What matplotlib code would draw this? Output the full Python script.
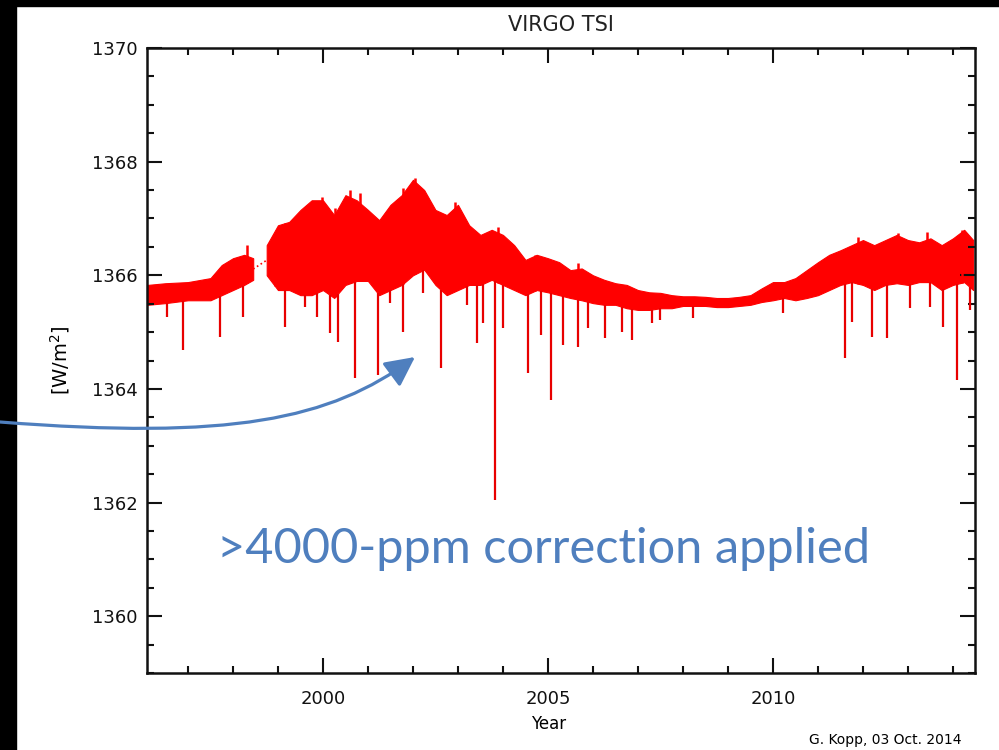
import numpy as np
import matplotlib.pyplot as plt
from matplotlib.patches import Rectangle, FancyArrowPatch
from matplotlib.path import Path
from matplotlib.ticker import MultipleLocator

# VIRGO TSI band (upper / lower edge of the daily scatter)
years = [1996.1, 1996.5, 1997.0, 1997.5, 1997.75, 1998.0, 1998.25, 1998.45,
         1998.75, 1999.0, 1999.25, 1999.5, 1999.75, 2000.0, 2000.25, 2000.5,
         2000.75, 2001.0, 2001.25, 2001.5, 2001.75, 2002.0, 2002.25, 2002.5,
         2002.75, 2003.0, 2003.25, 2003.5, 2003.75, 2004.0, 2004.25, 2004.5,
         2004.75, 2005.0, 2005.25, 2005.5, 2005.75, 2006.0, 2006.25, 2006.5,
         2006.75, 2007.0, 2007.25, 2007.5, 2007.75, 2008.0, 2008.25, 2008.5,
         2008.75, 2009.0, 2009.25, 2009.5, 2009.75, 2010.0, 2010.25, 2010.5,
         2010.75, 2011.0, 2011.25, 2011.5, 2011.75, 2012.0, 2012.25, 2012.5,
         2012.75, 2013.0, 2013.25, 2013.5, 2013.75, 2014.0, 2014.25, 2014.45]
upper = [1365.83, 1365.86, 1365.88, 1365.95, 1366.18, 1366.30, 1366.36, 1366.30,
         1366.53, 1366.88, 1366.94, 1367.15, 1367.32, 1367.32, 1367.06, 1367.41,
         1367.32, 1367.15, 1366.97, 1367.24, 1367.41, 1367.68, 1367.50, 1367.15,
         1367.06, 1367.24, 1366.88, 1366.71, 1366.80, 1366.71, 1366.53, 1366.27,
         1366.36, 1366.30, 1366.23, 1366.09, 1366.12, 1366.00, 1365.92, 1365.86,
         1365.83, 1365.74, 1365.70, 1365.69, 1365.65, 1365.63, 1365.63, 1365.62,
         1365.60, 1365.60, 1365.62, 1365.65, 1365.77, 1365.88, 1365.88, 1365.95,
         1366.09, 1366.23, 1366.36, 1366.44, 1366.53, 1366.62, 1366.53, 1366.62,
         1366.71, 1366.62, 1366.58, 1366.65, 1366.53, 1366.65, 1366.80, 1366.62]
lower = [1365.48, 1365.51, 1365.56, 1365.56, 1365.65, 1365.74, 1365.83, 1365.92,
         1366.00, 1365.74, 1365.74, 1365.65, 1365.65, 1365.74, 1365.60, 1365.83,
         1365.90, 1365.90, 1365.65, 1365.74, 1365.83, 1366.00, 1366.10, 1365.83,
         1365.65, 1365.74, 1365.83, 1365.83, 1365.92, 1365.83, 1365.74, 1365.65,
         1365.74, 1365.70, 1365.65, 1365.60, 1365.56, 1365.51, 1365.48, 1365.48,
         1365.42, 1365.39, 1365.39, 1365.42, 1365.42, 1365.46, 1365.46, 1365.46,
         1365.44, 1365.44, 1365.46, 1365.48, 1365.53, 1365.56, 1365.60, 1365.56,
         1365.60, 1365.65, 1365.74, 1365.83, 1365.88, 1365.83, 1365.74, 1365.83,
         1365.86, 1365.83, 1365.88, 1365.88, 1365.74, 1365.83, 1365.88, 1365.74]
gap_start, gap_end = 1998.45, 1998.75   # SOHO outage

# upward spikes on top of the band
peak_year = [1998.31, 1998.93, 1999.16, 1999.67, 1999.98, 2000.27, 2000.60, 2000.82,
             2001.53, 2001.78, 2002.04, 2002.93, 2003.38, 2003.89, 2004.71, 2005.67,
             2011.89, 2012.78, 2013.42, 2014.20]
peak_val = [1366.53, 1366.71, 1366.92, 1367.11, 1367.38, 1367.18, 1367.50, 1367.45,
            1367.20, 1367.54, 1367.72, 1367.29, 1366.76, 1366.85, 1366.36, 1366.21,
            1366.67, 1366.74, 1366.76, 1366.80]

# sunspot dips
dip_year = [1996.53, 1996.89, 1997.71, 1998.22, 1999.16, 1999.60, 1999.87, 2000.16,
            2000.33, 2000.71, 2001.22, 2001.49, 2001.78, 2002.22, 2002.62, 2003.20,
            2003.42, 2003.56, 2003.82, 2004.00, 2004.56, 2004.84, 2005.07, 2005.33,
            2005.67, 2005.89, 2006.27, 2006.64, 2006.87, 2007.31, 2007.49, 2008.22,
            2010.22, 2011.60, 2011.76, 2012.20, 2012.53, 2013.04, 2013.49, 2013.78,
            2014.09, 2014.38]
dip_val = [1365.26, 1364.68, 1364.91, 1365.26, 1365.09, 1365.44, 1365.26, 1364.98,
           1364.82, 1364.19, 1364.24, 1365.51, 1365.00, 1365.69, 1364.37, 1365.48,
           1364.81, 1365.16, 1362.04, 1365.07, 1364.28, 1364.95, 1363.80, 1364.77,
           1364.74, 1365.07, 1364.89, 1365.00, 1364.86, 1365.16, 1365.21, 1365.25,
           1365.33, 1364.54, 1365.18, 1364.91, 1364.89, 1365.42, 1365.44, 1365.09,
           1364.15, 1365.39]

W, H = 999, 750
BLUE = '#4f7fbe'
RED = '#ff0000'

fig = plt.figure(figsize=(W / 100, H / 100), dpi=100)
fig.patch.set_facecolor('white')
ax = fig.add_axes([147 / W, 1 - 673 / H, (975 - 147) / W, (673 - 48) / H])

yrs = np.array(years)
up = np.array(upper)
lo = np.array(lower)
before = yrs <= gap_start
after = yrs >= gap_end
for m in (before, after):
    ax.fill_between(yrs[m], lo[m], up[m], color=RED, lw=0.8, edgecolor=RED)
i0 = np.where(before)[0][-1]
i1 = np.where(after)[0][0]
ax.plot([yrs[i0], yrs[i1]], [(up[i0] + lo[i0]) / 2, (up[i1] + lo[i1]) / 2],
        ls=':', color=RED, lw=1.2)
ax.vlines(peak_year, np.interp(peak_year, yrs, lo), peak_val, color=RED, lw=1.8)
ax.vlines(dip_year, dip_val, np.interp(dip_year, yrs, lo), color='#e80000', lw=1.6)

ax.set_xlim(1996.09, 2014.49)
ax.set_ylim(1359.0, 1370.0)
ax.set_xticks([2000, 2005, 2010])
ax.set_yticks([1360, 1362, 1364, 1366, 1368, 1370])
ax.xaxis.set_minor_locator(MultipleLocator(1))
ax.yaxis.set_minor_locator(MultipleLocator(0.5))
ax.tick_params(which='both', direction='in', top=True, right=True, width=1.5, colors='#111111')
ax.tick_params(which='major', length=11)
ax.tick_params(which='minor', length=5)
ax.tick_params(axis='x', which='major', pad=12, labelsize=13)
ax.tick_params(axis='y', which='major', pad=7, labelsize=13)
for s in ax.spines.values():
    s.set_linewidth(1.8)
    s.set_color('#111111')

ax.set_title('VIRGO TSI', fontsize=15, pad=12, color='#222222')
fig.text(60 / W, 1 - 360 / H, '[W/m$^2$]', rotation=90, ha='center', va='center', fontsize=14)
fig.text(549 / W, 1 - 724 / H, 'Year', ha='center', va='center', fontsize=12)
fig.text(885 / W, 1 - 740 / H, 'G. Kopp, 03 Oct. 2014', ha='center', va='center', fontsize=10)

# annotation text, sized to the slide's width
t = fig.text(217 / W, 1 - 563 / H, '>4000-ppm correction applied', color=BLUE,
             family='Lato', fontsize=30, ha='left', va='baseline')
fig.canvas.draw()
w = t.get_window_extent().width
t.set_fontsize(30 * 653 / w)

# slide background bands
fig.patches.append(Rectangle((0, 0), 16 / W, 1, transform=fig.transFigure, color='black', zorder=5))
fig.patches.append(Rectangle((0, 1 - 6 / H), 1, 6 / H, transform=fig.transFigure, color='black', zorder=5))

pts = [(0, 422), (230, 440), (330, 420), (415, 357)]
verts = [(x / W, 1 - y / H) for x, y in pts]
path = Path(verts, [Path.MOVETO, Path.CURVE4, Path.CURVE4, Path.CURVE4])
arrow = FancyArrowPatch(path=path, arrowstyle='-|>,head_length=0.9,head_width=0.45',
                        mutation_scale=20, color=BLUE, lw=2.3, transform=fig.transFigure, zorder=6)
fig.patches.append(arrow)

fig.savefig('out.png', dpi=100)
